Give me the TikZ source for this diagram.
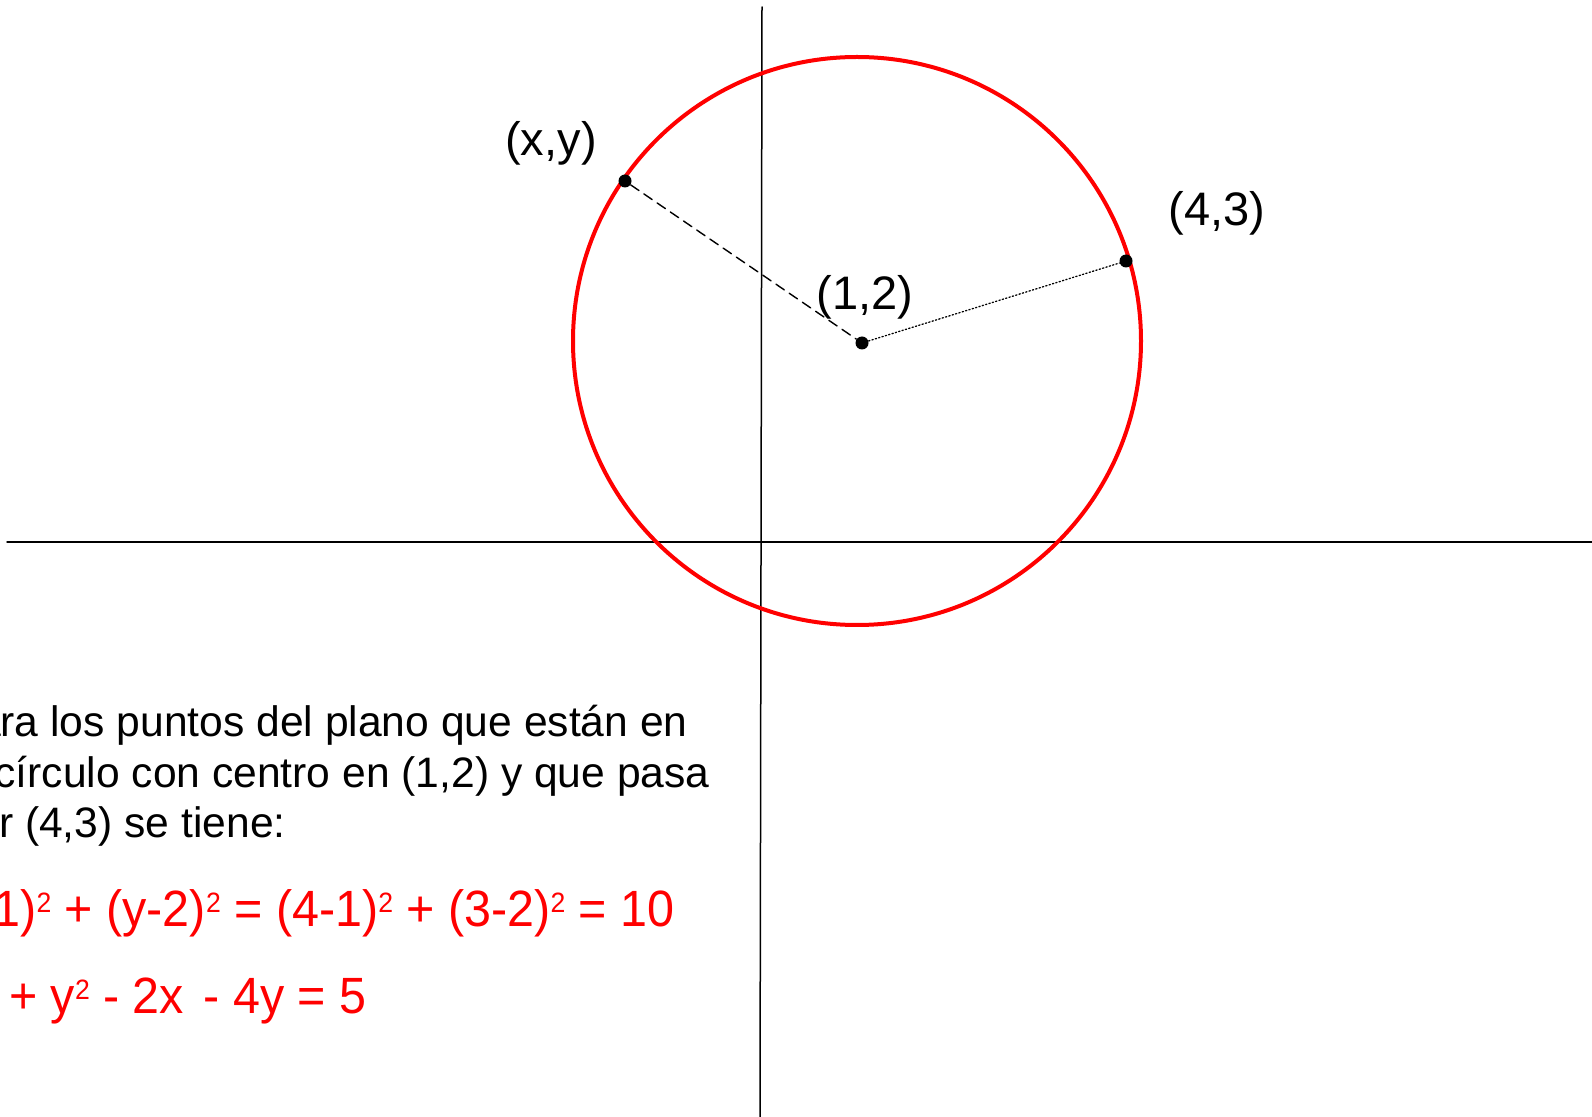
\documentclass[tikz,border=0pt]{standalone}
\usepackage{fontspec}
\setmainfont{Liberation Sans}
\newfontfamily\eqfont[FakeStretch=0.95]{Liberation Sans}
\newcommand\sqd{\raisebox{7pt}{\fontsize{14}{14}\selectfont 2}}
\begin{document}
\begin{tikzpicture}[x=0.5pt,y=-0.5pt,line cap=round,
  dot/.style={circle,fill=black,inner sep=0pt,minimum size=6.5pt},
  lbl/.style={inner sep=0pt,font=\fontsize{23.5}{28}\selectfont},
  txt/.style={anchor=base east,inner sep=0pt,font=\fontsize{21.3}{26}\selectfont},
  eqn/.style={anchor=base east,inner sep=0pt,red,font=\eqfont\fontsize{25.5}{30}\selectfont}]
\clip (0,0) rectangle (1592,1117);
\coordinate (xl) at (7,542);
\coordinate (xr) at (1592,542);
\coordinate (yt) at (762,7);
\coordinate (yb) at (760,1117);
\draw[line width=0.75pt] (xl) -- (xr);
\draw[line width=0.75pt] (yt) -- (yb);
\draw[red,line width=2pt] (857,341) circle (142pt);
\node[dot] (c) at (862,343) {};
\node[dot] (p) at (625,181) {};
\node[dot] (q) at (1126,261) {};
\draw[line width=0.7pt,dash pattern=on 5pt off 3pt] (p) -- (c);
\draw[line width=0.65pt,dash pattern=on 0.65pt off 1.1pt] (c) -- (q);
\node[lbl] (lp) at (551,143) {(x,y)};
\node[lbl] (lc) at (865,297) {(1,2)};
\node[lbl] (lq) at (1217,213) {(4,3)};
\node[txt] (t1) at (688,736) {Para los puntos del plano que están en};
\node[txt] (t2) at (710,787) {el círculo con centro en (1,2) y que pasa};
\node[txt] (t3) at (286,837) {por (4,3) se tiene:};
\node[eqn] (e1) at (675,926) {(x-1)\sqd{} + (y-2)\sqd{} = (4-1)\sqd{} + (3-2)\sqd{} = 10};
\node[eqn] (e2) at (367,1013) {x\sqd{} + y\sqd{} - 2x\hspace{3pt} - 4y = 5};
\end{tikzpicture}
\end{document}
